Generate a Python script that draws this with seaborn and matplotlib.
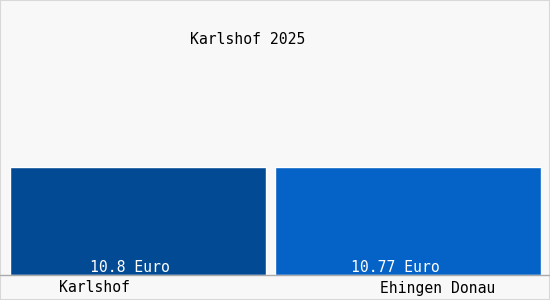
import matplotlib
matplotlib.use("Agg")
import matplotlib.pyplot as plt
import seaborn as sns
import pandas as pd
from matplotlib.lines import Line2D
from matplotlib.patches import Rectangle

categories = ["Karlshof", "Ehingen Donau"]
values = [10.8, 10.77]
value_labels = ["10.8 Euro", "10.77 Euro"]
title = "Karlshof 2025"
colors = ["#034a94", "#0562c6"]

sns.set_theme(style="white")
plt.rcParams["font.family"] = ["DejaVu Sans Mono"]

W, H = 550, 300
fig = plt.figure(figsize=(W / 100, H / 100), dpi=100)
fig.patch.set_facecolor("#f8f8f8")
fig.add_artist(Rectangle((0, 0), 1, 1, transform=fig.transFigure, fill=False,
                         edgecolor="#d8d8d8", linewidth=1.5))

left, right, bottom, top = 10, 541, 275, 166.7
ax = fig.add_axes([left / W, 1 - bottom / H, (right - left) / W, (bottom - top) / H])
ax.set_facecolor("none")

df = pd.DataFrame({"cat": categories, "val": values})
bar_widths = [0.946, 0.984]
sns.barplot(data=df, x="cat", y="val", hue="cat", palette=colors, legend=False,
            width=0.96, saturation=1, ax=ax)
for i, (p, bw) in enumerate(zip(ax.patches, bar_widths)):
    p.set_x(i - bw / 2)
    p.set_width(bw)
ax.set_xlim(-bar_widths[0] / 2, 1 + bar_widths[1] / 2)
ax.set_ylim(0, max(values))
ax.axis("off")

fs = 10.6
label_offsets = [-0.03, -0.048]
for i, (lab, off) in enumerate(zip(value_labels, label_offsets)):
    ax.text(i + off, 7 / (bottom - top), lab, ha="center", va="center", color="white",
            fontsize=fs, transform=ax.get_xaxis_transform())

fig.add_artist(Line2D([0, 1], [1 - bottom / H, 1 - bottom / H], transform=fig.transFigure,
                      color="#aaaaaa", linewidth=1))

label_x = [95, 438]
for x, c in zip(label_x, categories):
    fig.text(x / W, 1 - 288 / H, c, ha="center", va="center", fontsize=fs, color="black")

fig.text(248 / W, 1 - 40 / H, title, ha="center", va="center", fontsize=fs, color="black")

fig.savefig("out.png", dpi=100, facecolor=fig.get_facecolor())
